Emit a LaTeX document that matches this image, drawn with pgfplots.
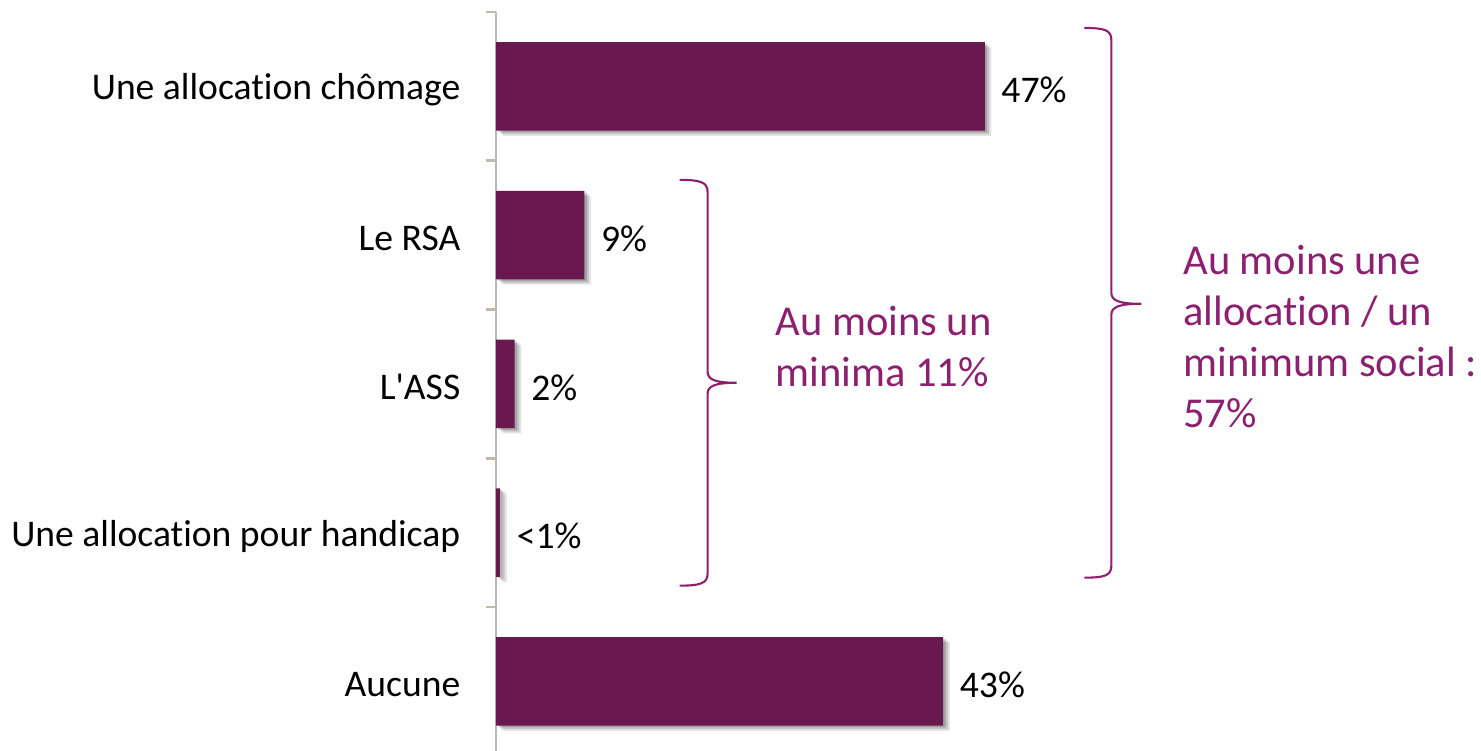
\documentclass[border=0pt]{standalone}
\usepackage{pgfplots}
\pgfplotsset{compat=1.18}
\usepackage{fontspec}
\setmainfont{Carlito}[Ligatures={NoCommon}]
\usetikzlibrary{shadows}
\definecolor{barcol}{RGB}{106,24,80}
\definecolor{anncol}{RGB}{141,31,112}
\definecolor{axcol}{RGB}{190,184,174}
\begin{document}
\begin{tikzpicture}
\begin{axis}[
 scale only axis, width=9.776cm, height=7.39cm,
 xmin=0, xmax=94, ymin=-0.5, ymax=4.468, y dir=reverse,
 xbar, bar width=0.595,
 axis x line=none,
 axis y line=left, axis line style={-, draw=axcol, line width=0.8pt},
 ytick={0,1,2,3,4},
 yticklabels={Une allocation chômage, Le RSA, {L\textquotesingle ASS}, Une allocation pour handicap, Aucune},
 major tick length=0pt,
 minor ytick={-0.5,0.5,1.5,2.5,3.5},
 minor tick length=0.1cm, tick align=outside,
 minor tick style={draw=axcol, line width=0.8pt},
 yticklabel style={font=\fontsize{10.7}{13}\selectfont, inner sep=0pt, xshift=-0.35cm, yshift=-1pt, text=black},
 point meta=explicit symbolic,
 nodes near coords,
 nodes near coords style={font=\fontsize{10.7}{13}\selectfont, anchor=west, inner sep=0pt, xshift=0.16cm, yshift=-1pt, text=black},
 clip=false,
]
\addplot[fill=barcol, draw=none,
  drop shadow={shadow xshift=1.9pt, shadow yshift=-1.5pt, fill=black, opacity=0.1},
  drop shadow={shadow xshift=1.3pt, shadow yshift=-1.0pt, fill=black, opacity=0.14},
  drop shadow={shadow xshift=0.7pt, shadow yshift=-0.5pt, fill=black, opacity=0.18}]
  coordinates {(47,0)[47\%] (8.5,1)[9\%] (1.8,2)[2\%] (0.4,3)[<1\%] (43,4)[43\%]};
\end{axis}
\begin{scope}[shift={(-4.96cm,7.51cm)}, x=0.01cm, y=-0.01cm, line width=0.6pt, draw=anncol]
\draw (680,180) .. controls (700,180) and (708,182) .. (708,192) -- (708,372) .. controls (708,380) and (716,383) .. (737,383) .. controls (716,383) and (708,386) .. (708,394) -- (708,574) .. controls (708,584) and (700,586) .. (680,586);
\draw (1085,28) .. controls (1105,28) and (1112,30) .. (1112,40) -- (1112,293) .. controls (1112,301) and (1120,304) .. (1142,304) .. controls (1120,304) and (1112,307) .. (1112,315) -- (1112,566) .. controls (1112,576) and (1105,578) .. (1085,578);
\node[anchor=base west, inner sep=0pt, align=left, text=anncol, font=\fontsize{12.1}{14.5}\selectfont] at (775,387) {Au moins un\\minima 11\%};
\node[anchor=base west, inner sep=0pt, align=left, text=anncol, font=\fontsize{12.1}{14.5}\selectfont] at (1183,428) {Au moins une\\allocation / un\\minimum social :\\57\%};
\end{scope}
\pgfresetboundingbox
\path (-4.96cm,0) rectangle (9.85cm,7.51cm);
\end{tikzpicture}
\end{document}
